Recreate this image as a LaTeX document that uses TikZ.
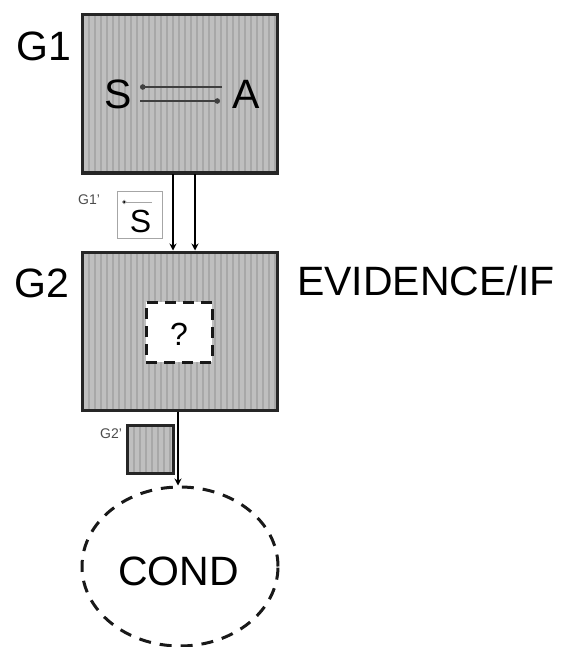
\documentclass[tikz,border=0pt]{standalone}
\usepackage{fontspec}
\setmainfont{Liberation Sans}
\usetikzlibrary{arrows.meta,shapes.geometric}

\tikzset{
  striped/.style={
    fill=black!25,
    path picture={
      \foreach \i in {1,7,...,200}
        \draw[black!34,line width=1.6pt]
          ([xshift=\i pt]path picture bounding box.south west) --
          ([xshift=\i pt]path picture bounding box.north west);
    }},
  graph/.style={striped, draw=black!85, line width=3pt, inner sep=0pt,
    minimum width=195pt, minimum height=158pt},
  minibox/.style={striped, draw=black!85, line width=3pt, inner sep=0pt,
    minimum width=46pt, minimum height=48pt},
  subbox/.style={draw=gray!70, line width=1pt, inner sep=0pt,
    minimum width=45pt, minimum height=47pt},
  unknown/.style={draw=black!90, fill=white, dash pattern=on 11pt off 7pt,
    line width=3pt, inner sep=0pt, minimum width=66pt, minimum height=60pt},
  condition/.style={ellipse, draw=black!90, dash pattern=on 12pt off 9pt,
    line width=3pt, inner sep=0pt, minimum width=196pt, minimum height=159pt},
  big/.style={font=\fontsize{41}{48}\selectfont, inner sep=0pt},
  mid/.style={font=\fontsize{32}{38}\selectfont, inner sep=0pt},
  tiny/.style={font=\fontsize{14}{17}\selectfont, inner sep=0pt, text=black!70},
  link/.style={draw=black, line width=1.6pt, -{Stealth[length=7pt,width=7pt]}},
  thinlink/.style={draw=black!75, line width=1.1pt, -{Circle[length=5.5pt]}},
}

\begin{document}
\begin{tikzpicture}[x=1pt,y=-1pt]
  \useasboundingbox (0,0) rectangle (564,647);

  % the two graph boxes
  \node[graph] (G1) at (179.5,94) {};
  \node[graph] (G2) at (179.5,331) {};

  % labels
  \node[big, anchor=base west] (g1lab) at (16,61) {G1};
  \node[big, anchor=base west] (g2lab) at (14,297) {G2};
  \node[big, anchor=base west] (evid) at (297,295) {EVIDENCE/IF};

  % contents of G1
  \node[big, anchor=base] (S) at (118.5,109) {S};
  \node[big, anchor=base] (A) at (246.5,109) {A};
  \coordinate (sa1) at (222,87);
  \coordinate (sa2) at (140,87);
  \coordinate (sb1) at (140,101);
  \coordinate (sb2) at (220,101);
  \draw[thinlink] (sa1) -- (sa2);
  \draw[thinlink] (sb1) -- (sb2);

  % transfer from G1 to G2
  \draw[link] ([xshift=-6.5pt]G1.south) -- ([xshift=-6.5pt]G2.north);
  \draw[link] ([xshift=15.5pt]G1.south) -- ([xshift=15.5pt]G2.north);

  % G1' sub-graph
  \node[subbox] (G1p) at (139.5,214.5) {};
  \node[mid, anchor=base] (Ssub) at (140.5,232) {S};
  \node[tiny, anchor=base west] (g1plab) at (78,204) {G1'};
  \coordinate (sp1) at (152,202);
  \coordinate (sp2) at (122,202);
  \draw[draw=gray!70, line width=0.8pt, -{Circle[length=4.5pt,fill=black]}] (sp1) -- (sp2);

  % unknown part inside G2
  \node[unknown] (q) at (179,332) {};
  \node[mid, anchor=base] (qm) at (179,345) {?};

  % G2' sub-graph
  \node[minibox] (G2p) at (150,449) {};
  \node[tiny, anchor=base west] (g2plab) at (100,438) {G2'};

  % condition
  \node[condition] (cond) at (180,566.5) {};
  \node[big, anchor=base] (condtxt) at (178.5,585) {COND};

  \draw[link] ([xshift=-1.5pt]G2.south) -- ([xshift=-2pt]cond.north);
\end{tikzpicture}
\end{document}
